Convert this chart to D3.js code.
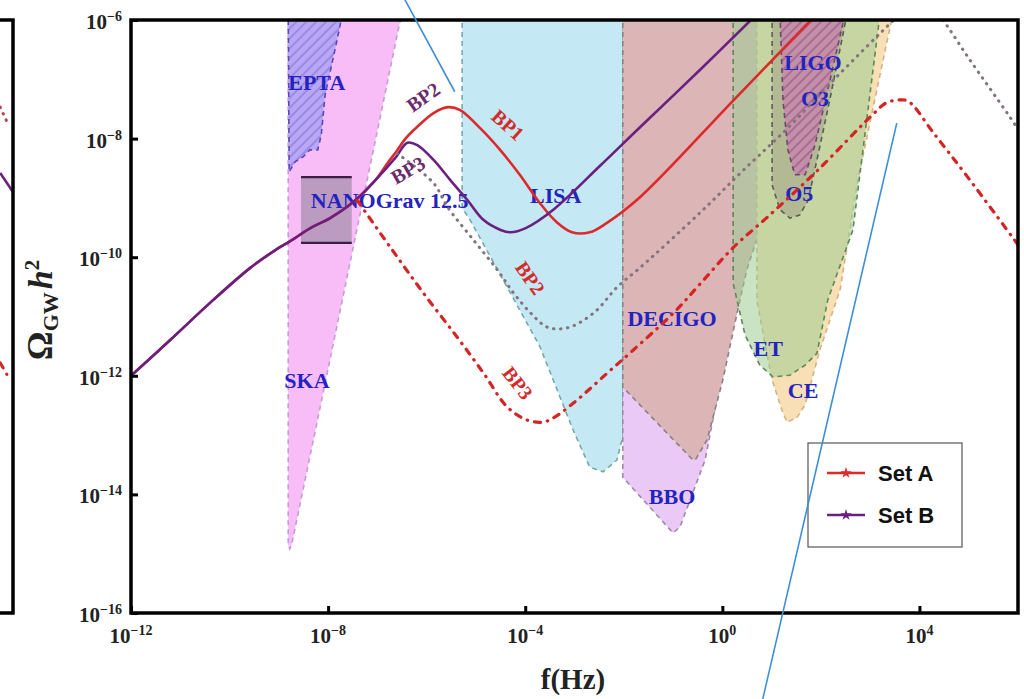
<!DOCTYPE html>
<html>
<head>
<meta charset="utf-8">
<script src="https://cdn.jsdelivr.net/npm/d3@7"></script>
<style>
  html, body { margin: 0; padding: 0; background: #fff; }
  svg { display: block; }
</style>
</head>
<body>
<svg id="chart" width="1024" height="699"></svg>
<script>
// all points are [log10 f(Hz), log10 Omega_GW h^2]
const xTickExps = [-12, -8, -4, 0, 4];
const yTickExps = [-6, -8, -10, -12, -14, -16];

// Set A, BP1 (solid red)
const setA_BP1 = [
  [-12, -12.0], [-11.21, -11.40], [-10.33, -10.72], [-9.58, -10.18], [-9.07, -9.88],
  [-8.77, -9.73], [-8.36, -9.51], [-7.96, -9.34], [-7.49, -9.07], [-7.04, -8.70],
  [-6.80, -8.42], [-6.60, -8.20], [-6.43, -8.00], [-6.19, -7.80], [-5.86, -7.57],
  [-5.56, -7.47], [-5.32, -7.52], [-4.92, -7.82], [-4.51, -8.19], [-4.11, -8.61],
  [-3.70, -9.09], [-3.36, -9.41], [-3.05, -9.58], [-2.69, -9.58], [-2.34, -9.42],
  [-1.66, -8.98], [0.23, -7.35], [1.80, -6.0]
];
// Set A, BP2 (dotted)
const setA_BP2 = [
  [-6.60, -8.25], [-5.86, -8.75], [-5.58, -9.15], [-5.05, -9.71], [-4.56, -10.22],
  [-4.24, -10.60], [-3.89, -10.94], [-3.55, -11.18], [-3.14, -11.19], [-2.61, -10.94],
  [-2.13, -10.50], [-1.66, -10.17], [-0.44, -9.24], [0.43, -8.53], [1.33, -7.82],
  [2.26, -7.01], [3.48, -6.0], [3.85, -5.72], [4.07, -5.62], [4.30, -5.80],
  [4.58, -6.12], [4.98, -6.62], [5.92, -7.74], [6.0, -7.85]
];
// Set A, BP3 (dash-dot)
const setA_BP3 = [
  [-7.41, -9.04], [-6.74, -9.83], [-6.07, -10.60], [-5.38, -11.35], [-4.85, -11.95],
  [-4.36, -12.53], [-3.95, -12.75], [-3.63, -12.78], [-3.43, -12.71], [-3.02, -12.46],
  [-2.33, -11.95], [-1.80, -11.56], [-0.99, -10.94], [-0.44, -10.44], [0.23, -9.83],
  [0.92, -9.32], [1.94, -8.53], [3.08, -7.57], [3.32, -7.40], [3.56, -7.35],
  [3.77, -7.37], [4.29, -7.91], [4.98, -8.65], [6.0, -9.79]
];
// Set B (solid purple)
const setB = [
  [-12, -12.0], [-11.21, -11.40], [-10.33, -10.72], [-9.58, -10.18], [-9.07, -9.88],
  [-8.77, -9.73], [-8.36, -9.51], [-7.96, -9.34], [-7.49, -9.07], [-7.04, -8.70],
  [-6.64, -8.33], [-6.39, -8.07], [-6.19, -8.11], [-5.86, -8.36], [-5.52, -8.70],
  [-5.17, -9.04], [-4.85, -9.37], [-4.50, -9.54], [-4.30, -9.58], [-3.99, -9.51],
  [-3.43, -9.20], [-2.47, -8.45], [-1.66, -7.80], [-0.44, -6.83], [0.58, -6.0]
];

// detector sensitivity regions
const ska = [[-8.81, -5.9], [-6.51, -5.9], [-8.74, -14.85], [-8.78, -14.92], [-8.81, -14.85]];
const epta = [
  [-8.81, -5.9], [-7.71, -5.9], [-7.84, -6.42], [-8.06, -7.26], [-8.14, -7.94], [-8.21, -8.19],
  [-8.37, -8.19], [-8.51, -8.31], [-8.67, -8.39], [-8.79, -8.56]
];
const lisa = [
  [-5.28, -5.9], [-5.28, -9.17], [-5.12, -9.37], [-4.45, -10.38], [-3.70, -11.51], [-3.03, -12.91],
  [-2.69, -13.54], [-2.42, -13.62], [-2.14, -13.42], [-2.02, -13.03], [-2.02, -5.9]
];
const bbo = [
  [-2.02, -5.9], [-2.02, -13.71], [-1.00, -14.65], [-0.86, -14.55], [-0.35, -13.42],
  [0.16, -11.23], [0.16, -5.9]
];
const decigo = [
  [-2.02, -5.9], [-2.02, -12.19], [-0.62, -13.40], [-0.55, -13.42], [-0.31, -13.08],
  [0.01, -12.07], [0.30, -10.94], [0.50, -10.2], [0.70, -9.7], [0.70, -5.9]
];
const ce = [
  [0.70, -5.9], [0.70, -10.72], [0.87, -11.48], [1.01, -12.07], [1.21, -12.58], [1.31, -12.78],
  [1.51, -12.71], [1.68, -12.49], [1.98, -11.56], [2.39, -10.55], [2.75, -8.70], [3.46, -5.9]
];
const et = [
  [0.22, -5.9], [0.22, -10.44], [0.46, -11.31], [0.76, -11.82], [1.03, -12.02], [1.37, -11.99],
  [1.68, -11.82], [1.92, -11.62], [2.14, -10.72], [2.65, -9.54], [3.20, -5.9]
];
const ligoO5 = [
  [1.01, -5.9], [1.01, -8.78], [1.17, -9.20], [1.37, -9.34], [1.57, -9.29], [1.74, -9.04],
  [1.92, -8.36], [2.18, -7.35], [2.53, -5.9]
];
const ligoO3 = [
  [1.17, -5.9], [1.23, -7.35], [1.33, -8.19], [1.47, -8.61], [1.68, -8.61], [1.88, -8.11],
  [2.14, -7.18], [2.49, -5.9]
];
// NANOGrav 12.5 box: [f range], [Omega range]
const nanogravF = [-8.55, -7.52];
const nanogravOmega = [-9.76, -8.65];

// right end of the neighbouring panel (same axes)
const prevPurple = [[5.74, -8.58], [6.0, -8.90]];
const prevDotted = [[5.74, -7.47], [5.88, -7.72]];
const prevDashDot = [[5.74, -11.78], [5.94, -12.07]];

// blue pointer lines drawn over the figure
const pointerLines = [
  [[-6.44, -5.66], [-5.43, -7.21]],
  [[3.54, -7.74], [0.82, -17.45]]
];

const regionLabels = [
  ['EPTA', -8.23, -7.05], ['SKA', -8.43, -12.07], ['LISA', -3.38, -8.95],
  ['DECIGO', -1.02, -11.03], ['BBO', -1.02, -14.04], ['ET', 0.93, -11.53],
  ['CE', 1.64, -12.24], ['LIGO', 1.84, -6.71], ['O3', 1.88, -7.32], ['O5', 1.56, -8.92]
];
const curveLabels = [
  ['BP2', -6.07, -7.30, -35, 'B'], ['BP3', -6.38, -8.53, -30, 'B'],
  ['BP1', -4.35, -7.77, 42, 'A'], ['BP2', -3.90, -10.35, 55, 'A'], ['BP3', -4.15, -12.12, 52, 'A']
];

const serif = "'Liberation Serif', 'Times New Roman', serif";
const sans = "'Liberation Sans', Arial, sans-serif";
const red = '#dc2a2a', purple = '#6a2080';

const svg = d3.select('#chart');
const x = d3.scaleLog().domain([1e-12, 1e6]).range([131, 1018]);
const y = d3.scaleLog().domain([1e-16, 1e-6]).range([613, 20]);
const xPrev = d3.scaleLog().domain([1e-12, 1e6]).range([131 - 1005, 1018 - 1005]);

const px = d => x(Math.pow(10, d[0]));
const py = d => y(Math.pow(10, d[1]));

const defs = svg.append('defs');
defs.append('clipPath').attr('id', 'plot')
  .append('rect').attr('x', 131).attr('y', 20).attr('width', 887).attr('height', 593);
defs.append('clipPath').attr('id', 'prev')
  .append('rect').attr('x', 0).attr('y', 20).attr('width', xPrev(1e6)).attr('height', 593);

function hatch(id, color) {
  const p = defs.append('pattern').attr('id', id)
    .attr('patternUnits', 'userSpaceOnUse').attr('width', 7).attr('height', 7)
    .attr('patternTransform', 'rotate(45)');
  p.append('line').attr('x1', 1).attr('y1', 0).attr('x2', 1).attr('y2', 7)
    .attr('stroke', color).attr('stroke-width', 1.1);
}
hatch('hatchEpta', '#8470d2');
hatch('hatchO3', '#9a4a8a');

const plot = svg.append('g').attr('clip-path', 'url(#plot)');

const area = d3.line().x(px).y(py).curve(d3.curveLinearClosed);
const smooth = d3.line().x(px).y(py).curve(d3.curveCatmullRom.alpha(0.5));

const regions = [
  { pts: ska, fill: '#f8bdf6', stroke: '#c79bd9', op: 1 },
  { pts: epta, fill: '#b8a7f4', stroke: '#5448bc', op: 1, hatch: 'hatchEpta' },
  { pts: lisa, fill: '#c5e9f4', stroke: '#74a9a6', op: 1 },
  { pts: bbo, fill: '#ebc9f7', stroke: '#9f89a6', op: 1 },
  { pts: decigo, fill: '#dcb5b7', stroke: '#8b8281', op: 1 },
  { pts: ce, fill: '#f9dfb6', stroke: '#d2b383', op: 1 },
  { pts: et, fill: '#9ccc92', stroke: '#5a8a5a', op: 0.55 },
  { pts: ligoO5, fill: '#8c8878', stroke: '#5c5c5c', op: 0.35 },
  { pts: ligoO3, fill: '#d070b8', stroke: '#6a4a6a', op: 0.55, hatch: 'hatchO3' }
];

regions.forEach(r => {
  plot.append('path').attr('d', area(r.pts))
    .attr('fill', r.fill).attr('fill-opacity', r.op);
  if (r.hatch) plot.append('path').attr('d', area(r.pts)).attr('fill', `url(#${r.hatch})`);
  plot.append('path').attr('d', area(r.pts))
    .attr('fill', 'none').attr('stroke', r.stroke)
    .attr('stroke-width', 1.6).attr('stroke-dasharray', '5 4');
});

// NANOGrav 12.5 box
const nx0 = x(10 ** nanogravF[0]), nx1 = x(10 ** nanogravF[1]);
const ny0 = y(10 ** nanogravOmega[1]), ny1 = y(10 ** nanogravOmega[0]);
plot.append('rect').attr('x', nx0).attr('y', ny0).attr('width', nx1 - nx0).attr('height', ny1 - ny0)
  .attr('fill', '#b497b9').attr('fill-opacity', 0.9);
[ny0, ny1].forEach(v => plot.append('line')
  .attr('x1', nx0).attr('x2', nx1).attr('y1', v).attr('y2', v)
  .attr('stroke', '#3b1d48').attr('stroke-width', 2.2));

// region labels
plot.selectAll('.rlab').data(regionLabels).enter().append('text')
  .attr('x', d => x(10 ** d[1])).attr('y', d => y(10 ** d[2])).attr('dy', '0.35em')
  .attr('text-anchor', 'middle')
  .attr('font-family', serif).attr('font-weight', 'bold').attr('font-size', 22)
  .attr('fill', '#2323c0').text(d => d[0]);
plot.append('text')
  .attr('x', x(10 ** -8.35)).attr('y', y(10 ** -9.04)).attr('dy', '0.35em')
  .attr('font-family', serif).attr('font-weight', 'bold').attr('font-size', 22)
  .attr('fill', '#2323c0').text('NANOGrav 12.5');

// curves
plot.append('path').attr('d', smooth(setA_BP1)).attr('fill', 'none')
  .attr('stroke', red).attr('stroke-width', 2.6);
plot.append('path').attr('d', smooth(setB)).attr('fill', 'none')
  .attr('stroke', purple).attr('stroke-width', 2.6);
plot.append('path').attr('d', smooth(setA_BP2)).attr('fill', 'none')
  .attr('stroke', '#84727e').attr('stroke-width', 3)
  .attr('stroke-linecap', 'round').attr('stroke-dasharray', '0.5 6.5');
plot.append('path').attr('d', smooth(setA_BP3)).attr('fill', 'none')
  .attr('stroke', '#d42424').attr('stroke-width', 3.2)
  .attr('stroke-linecap', 'round').attr('stroke-dasharray', '6 7 0.5 7');

// curve labels
plot.selectAll('.clab').data(curveLabels).enter().append('text')
  .attr('transform', d => `translate(${x(10 ** d[1])},${y(10 ** d[2])}) rotate(${d[3]})`)
  .attr('dy', '0.35em').attr('text-anchor', 'middle')
  .attr('font-family', serif).attr('font-weight', 'bold').attr('font-size', 20)
  .attr('fill', d => d[4] === 'A' ? '#d42a2a' : '#6b2c6b').text(d => d[0]);

// piece of the neighbouring panel on the left
const prevLine = d3.line().x(d => xPrev(10 ** d[0])).y(py);
const prev = svg.append('g').attr('clip-path', 'url(#prev)');
prev.append('path').attr('d', prevLine(prevPurple)).attr('fill', 'none')
  .attr('stroke', purple).attr('stroke-width', 2.6);
prev.append('path').attr('d', prevLine(prevDotted)).attr('fill', 'none')
  .attr('stroke', '#c04048').attr('stroke-width', 3)
  .attr('stroke-linecap', 'round').attr('stroke-dasharray', '0.5 6.5');
prev.append('path').attr('d', prevLine(prevDashDot)).attr('fill', 'none')
  .attr('stroke', '#d42424').attr('stroke-width', 3)
  .attr('stroke-linecap', 'round').attr('stroke-dasharray', '6 7 0.5 7');
const pr = xPrev(1e6);
svg.append('path')
  .attr('d', `M0,${y(1e-6)}H${pr}V${y(1e-16)}H0`)
  .attr('fill', 'none').attr('stroke', '#000').attr('stroke-width', 3.5);

// axes: inward ticks
const xAxis = d3.axisBottom(x).tickValues(xTickExps.map(e => 10 ** e))
  .tickSize(-7).tickFormat(() => '');
const yAxis = d3.axisLeft(y).tickValues(yTickExps.map(e => 10 ** e))
  .tickSize(-7).tickFormat(() => '');
svg.append('g').attr('transform', 'translate(0,613)').call(xAxis)
  .call(g => g.select('.domain').remove())
  .selectAll('line').attr('stroke', '#000').attr('stroke-width', 3);
svg.append('g').attr('transform', 'translate(131,0)').call(yAxis)
  .call(g => g.select('.domain').remove())
  .selectAll('line').attr('stroke', '#000').attr('stroke-width', 3);

svg.append('rect').attr('x', 131).attr('y', 20).attr('width', 887).attr('height', 593)
  .attr('fill', 'none').attr('stroke', '#000').attr('stroke-width', 3.5);

const expText = e => (e < 0 ? '\u2212' + Math.abs(e) : String(e));
function powLabel(sel) {
  sel.attr('font-family', serif).attr('font-weight', 'bold').attr('fill', '#222');
  sel.append('tspan').attr('font-size', 21).text('10');
  sel.append('tspan').attr('font-size', 14).attr('dy', -8).text(d => expText(d));
}
svg.selectAll('.xlab').data(xTickExps).enter().append('text')
  .attr('x', e => x(10 ** e)).attr('y', 643).attr('text-anchor', 'middle')
  .call(powLabel);
svg.selectAll('.ylab').data(yTickExps).enter().append('text')
  .attr('x', 122).attr('y', e => y(10 ** e) + 9).attr('text-anchor', 'end')
  .call(powLabel);

// axis titles
svg.append('text').attr('x', 573).attr('y', 689).attr('text-anchor', 'middle')
  .attr('font-family', serif).attr('font-weight', 'bold').attr('font-size', 29)
  .attr('fill', '#222').text('f(Hz)');
const yt = svg.append('text').attr('transform', 'translate(52,310) rotate(-90)')
  .attr('text-anchor', 'middle').attr('font-family', serif).attr('font-weight', 'bold')
  .attr('fill', '#222');
yt.append('tspan').attr('font-size', 36).text('\u03A9');
yt.append('tspan').attr('font-size', 22).attr('dy', 6).text('GW');
yt.append('tspan').attr('font-size', 34).attr('font-style', 'italic').attr('dy', -6).attr('dx', 3).text('h');
yt.append('tspan').attr('font-size', 21).attr('dy', -13).text('2');

// legend
const legend = svg.append('g');
legend.append('rect').attr('x', 808).attr('y', 443).attr('width', 154).attr('height', 104)
  .attr('fill', '#fff').attr('stroke', '#555').attr('stroke-width', 1.2);
const legendItems = [['Set A', red], ['Set B', purple]];
legendItems.forEach(([name, color], i) => {
  const ly = 473 + i * 42;
  legend.append('line').attr('x1', 827).attr('x2', 865).attr('y1', ly).attr('y2', ly)
    .attr('stroke', color).attr('stroke-width', 2.6);
  legend.append('path').attr('d', d3.symbol(d3.symbolStar, 40)())
    .attr('transform', `translate(846,${ly})`).attr('fill', color);
  legend.append('text').attr('x', 878).attr('y', ly).attr('dy', '0.36em')
    .attr('font-family', sans).attr('font-weight', 'bold').attr('font-size', 22)
    .attr('fill', '#111').text(name);
});

// blue pointer lines
svg.selectAll('.pointer').data(pointerLines).enter().append('line')
  .attr('x1', d => px(d[0])).attr('y1', d => py(d[0]))
  .attr('x2', d => px(d[1])).attr('y2', d => py(d[1]))
  .attr('stroke', '#3f8fd6').attr('stroke-width', 1.6);
</script>
</body>
</html>
